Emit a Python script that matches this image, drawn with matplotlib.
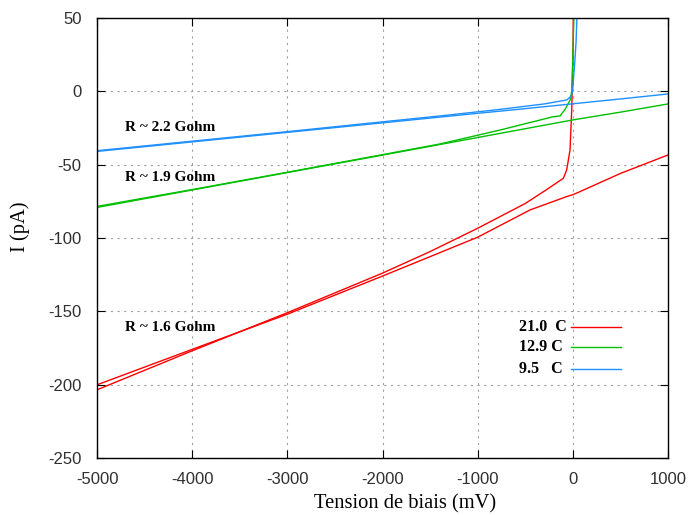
import numpy as np
import matplotlib.pyplot as plt

plt.rcParams['axes.unicode_minus'] = False

# I-V sweeps, two branches per temperature (aller avec coude, retour lineaire)
v_red_up = [-5000, -4000, -3000, -2000, -1500, -1000, -500, -275, -100, -65, -30, -12, 0, 5]
i_red_up = [-203.6, -177, -151, -124, -109.3, -93.4, -76.5, -67, -59.3, -53.6, -40, -12.7, 20, 55]
v_red_dn = [1000, 500, 75, 0, -65, -450, -1000, -2000, -3000, -4000, -5000]
i_red_dn = [-43.4, -56, -68.4, -70.5, -71.8, -80.9, -99.5, -126, -152, -176, -200.2]

v_grn_up = [-5000, -4000, -3000, -2000, -1396, -765, -205, -135, -82, -47, -30, -12, 0, 12]
i_grn_up = [-78.5, -67, -55.2, -43.2, -35.9, -26.4, -17.3, -16.8, -12.3, -8.2, -6, 0, 25, 55]
v_grn_dn = [1000, 500, 0, -500, -1000, -2000, -3000, -4000, -5000]
i_grn_dn = [-8.6, -14.2, -19.5, -25.5, -31.5, -43.5, -55.4, -67.3, -79.2]

v_blu_up = [-5000, -4000, -3000, -2000, -1396, -765, -300, -65, -30, -12, -2, 20, 33, 45]
i_blu_up = [-40.5, -34, -27.5, -20.8, -16.8, -12.3, -8.6, -5.9, -4, -2.5, 0.9, 20, 33, 55]
v_blu_dn = [1000, 500, 0, -500, -1000, -2000, -3000, -4000, -5000]
i_blu_dn = [-1.8, -5.2, -8.5, -11.8, -15, -21.5, -28, -34.5, -41]

labels = ['21.0  C', '12.9 C', '9.5   C']
colors = ['#ff0000', '#00c000', '#1e90ff']

notes = ['R ~ 2.2 Gohm', 'R ~ 1.9 Gohm', 'R ~ 1.6 Gohm']
note_y = [-24.5, -58.5, -161]

fig = plt.figure(figsize=(6.88, 5.15), dpi=100)
ax = fig.add_axes([0.141, 0.111, 0.830, 0.854])

series = [(v_red_up, i_red_up, v_red_dn, i_red_dn),
          (v_grn_up, i_grn_up, v_grn_dn, i_grn_dn),
          (v_blu_up, i_blu_up, v_blu_dn, i_blu_dn)]
for (vu, iu, vd, idn), c in zip(series, colors):
    ax.plot(vu, iu, color=c, lw=1.0)
    ax.plot(vd, idn, color=c, lw=1.0)

for txt, y in zip(notes, note_y):
    ax.text(-4706, y, txt, family='Liberation Serif', fontweight='bold',
            fontsize=11, va='center', ha='left')

# gnuplot-style key: text left-aligned, sample line to the right
key_rows = [0.298, 0.253, 0.203]
for lab, c, yk in zip(labels, colors, key_rows):
    ax.text(0.739, yk, lab, transform=ax.transAxes, family='Liberation Serif',
            fontweight='bold', fontsize=11.5, va='center', ha='left')
    ax.plot([0.830, 0.918], [yk, yk], transform=ax.transAxes, color=c, lw=1.0)

ax.set_xlim(-5000, 1000)
ax.set_ylim(-250, 50)
ax.set_xticks(np.arange(-5000, 1001, 1000))
ax.set_yticks(np.arange(-250, 51, 50))
ax.grid(True, color='#a0a0a0', linestyle=(0, (2, 4)), linewidth=0.8)
ax.tick_params(direction='in', length=6, top=True, right=True,
               labelsize=12, labelcolor='#303030')
ax.tick_params(axis='x', pad=10)
ax.tick_params(axis='y', pad=11)
for lbl in ax.get_xticklabels() + ax.get_yticklabels():
    lbl.set_family('Liberation Sans')
for s in ax.spines.values():
    s.set_linewidth(1.0)

ax.set_xlabel('Tension de biais (mV)', family='Liberation Serif', fontsize=14.8)
ax.set_ylabel('I (pA)', family='Liberation Serif', fontsize=14.8)
ax.xaxis.set_label_coords(0.539, -0.083)
ax.yaxis.set_label_coords(-0.118, 0.525)

fig.savefig('out.png', dpi=100)
